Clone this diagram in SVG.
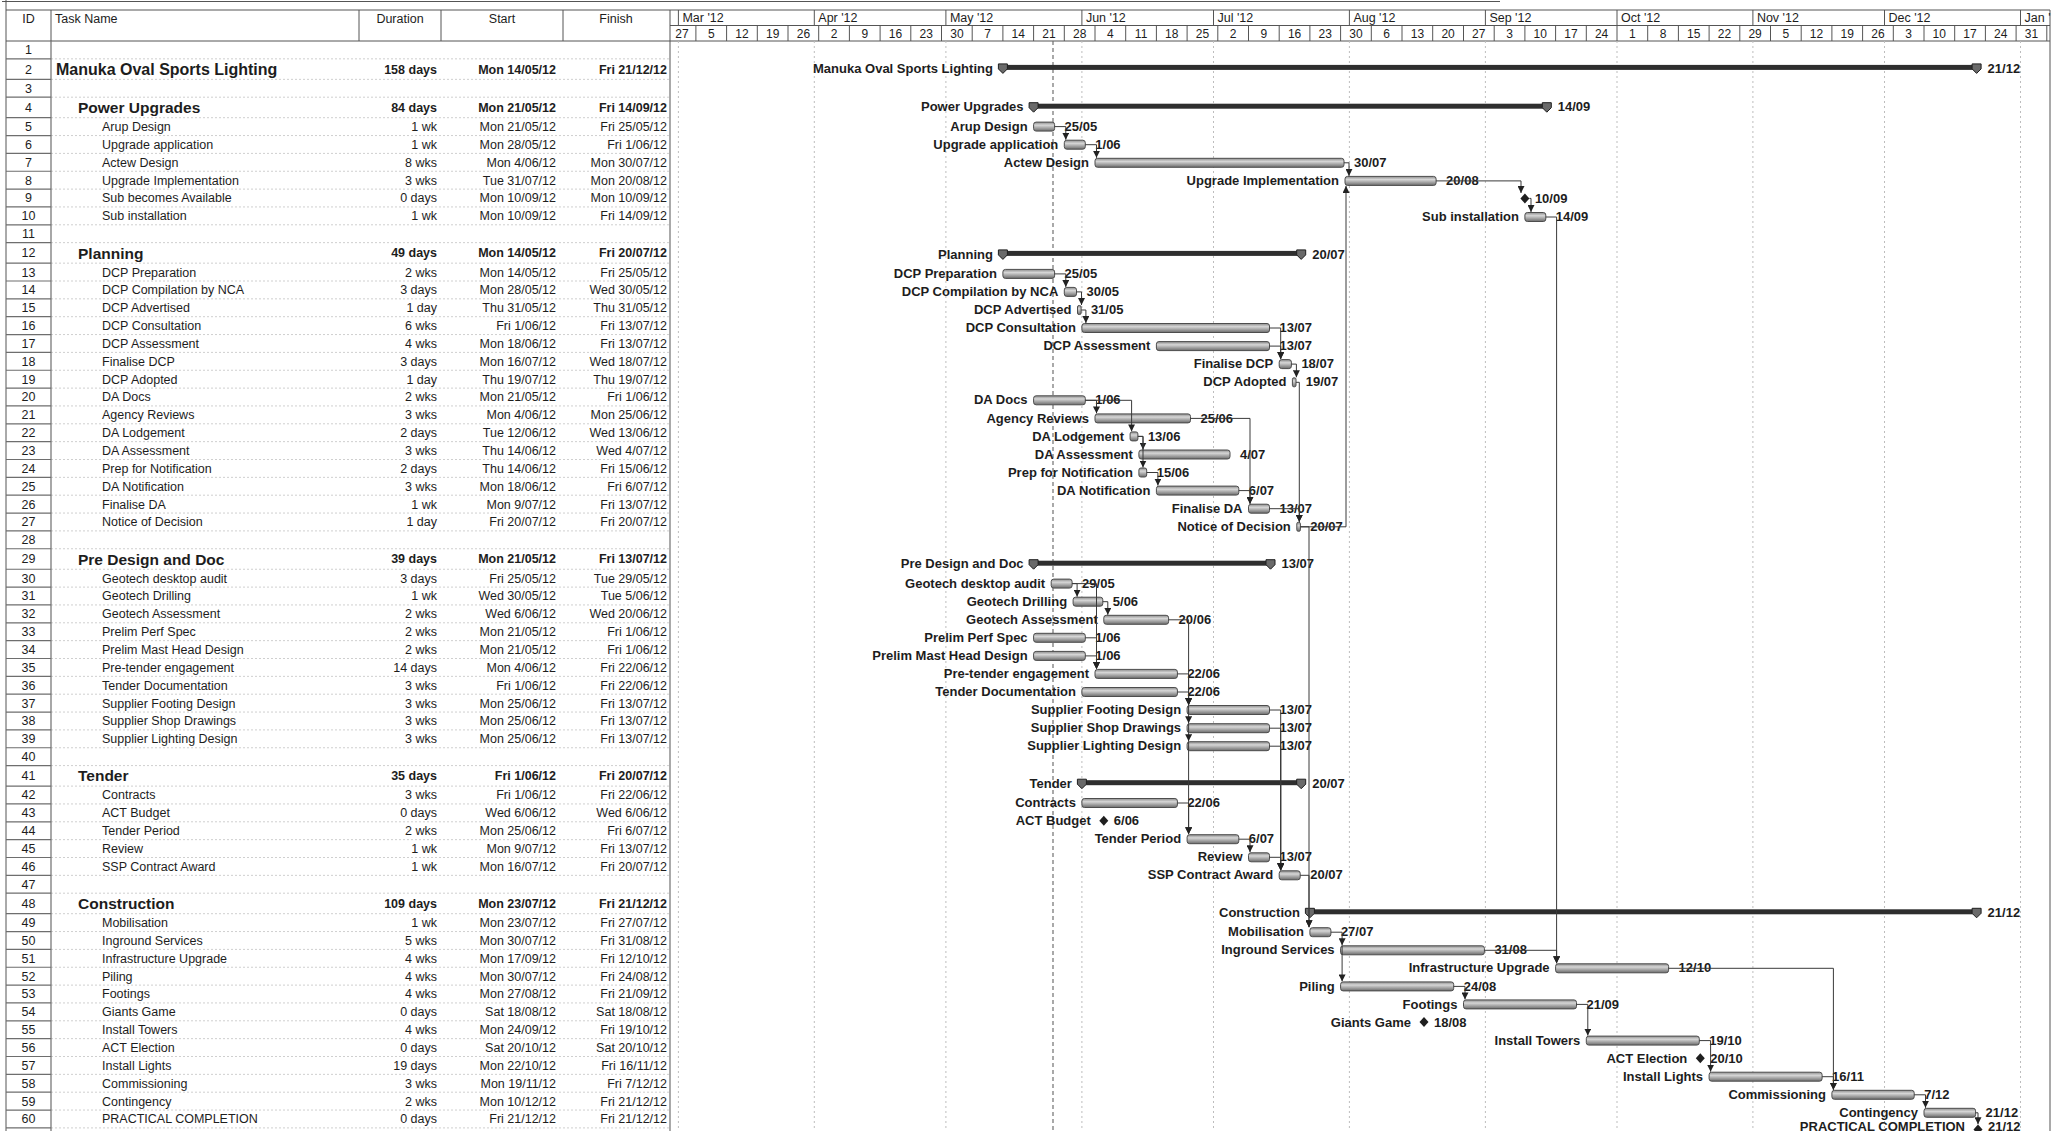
<svg xmlns="http://www.w3.org/2000/svg" xmlns:xlink="http://www.w3.org/1999/xlink" width="2057" height="1131" viewBox="0 0 2057 1131">
<style>
text{font-family:"Liberation Sans",Arial,Helvetica,sans-serif;fill:#1d1d1d}
.hd{font-size:12.5px}
.hc{font-size:12.5px;text-anchor:middle}
.id{font-size:12.5px;text-anchor:middle}
.n{font-size:12.5px}
.s0{font-size:16px;font-weight:bold}
.s1{font-size:15.5px;font-weight:bold}
.r{font-size:12.5px;text-anchor:end}
.rb{font-size:12.5px;text-anchor:end;font-weight:bold}
.wk{font-size:12px;text-anchor:middle}
.mo{font-size:12.5px}
.cl{font-size:13px;font-weight:bold;text-anchor:end}
.cd{font-size:13px;font-weight:bold}
.bar{fill:url(#g);stroke:#4d4d4d;stroke-width:1}
.sum{fill:#2e2e2e}
.cap{fill:#6a6a6a;stroke:#1f1f1f;stroke-width:1}
.ms{fill:#1f1f1f}
.lk{fill:none;stroke:#3a3a3a;stroke-width:1;marker-end:url(#a)}
.grid{stroke:#bdbdbd;stroke-width:1;stroke-dasharray:2 3;fill:none}
.stat{stroke:#707070;stroke-width:1.2;stroke-dasharray:4 3;fill:none}
.rowl{stroke:#cfcfcf;stroke-width:1;stroke-dasharray:2 2;fill:none}
.idl{stroke:#6e6e6e;stroke-width:1.2;fill:none}
.hl{stroke:#555;stroke-width:1;fill:none}
</style>
<defs>
<linearGradient id="g" x1="0" y1="0" x2="0" y2="1">
<stop offset="0" stop-color="#8c8c8c"/>
<stop offset="0.35" stop-color="#d6d6d6"/>
<stop offset="1" stop-color="#6c6c6c"/>
</linearGradient>
<marker id="a" viewBox="0 0 10 10" refX="10" refY="5" markerWidth="7" markerHeight="7" markerUnits="userSpaceOnUse" orient="auto">
<path d="M0,0 L10,5 L0,10 Z" fill="#222"/>
</marker>
<path id="cap" class="cap" d="M-4.5,-4 H4.5 V1 L0,5.5 L-4.5,1 Z"/>
<path id="dia" class="ms" d="M0,-5 L4.5,0 L0,5 L-4.5,0 Z"/>
</defs>
<rect x="0" y="0" width="2057" height="1131" fill="#ffffff"/>

<g id="frame">
<path class="hl" d="M2,1.5H1500"/>
<path class="hl" d="M6,0V1131M6,10H2050M6,41H2050M670,25.5H2050M2050,10V1131M670,10V1131"/>
<path class="hl" d="M51,10V41M359,10V41M441,10V41M563,10V41"/>
</g>

<g id="table-header">
<text class="hc" x="28.5" y="23">ID</text>
<text class="hd" x="55" y="23">Task Name</text>
<text class="hc" x="400" y="23">Duration</text>
<text class="hc" x="502" y="23">Start</text>
<text class="hc" x="616" y="23">Finish</text>
</g>

<g id="timescale">
<path class="hl" d="M678.4,10V25.5M814.3,10V25.5M945.9,10V25.5M1081.9,10V25.5M1213.5,10V25.5M1349.4,10V25.5M1485.4,10V25.5M1617,10V25.5M1752.9,10V25.5M1884.5,10V25.5M2020.5,10V25.5"/>
<text class="mo" x="682.4" y="22">Mar '12</text>
<text class="mo" x="818.3" y="22">Apr '12</text>
<text class="mo" x="949.9" y="22">May '12</text>
<text class="mo" x="1085.9" y="22">Jun '12</text>
<text class="mo" x="1217.5" y="22">Jul '12</text>
<text class="mo" x="1353.4" y="22">Aug '12</text>
<text class="mo" x="1489.4" y="22">Sep '12</text>
<text class="mo" x="1621" y="22">Oct '12</text>
<text class="mo" x="1756.9" y="22">Nov '12</text>
<text class="mo" x="1888.5" y="22">Dec '12</text>
<text class="mo" x="2024.5" y="22">Jan '</text>
<path class="hl" d="M695.9,25.5V41M726.6,25.5V41M757.3,25.5V41M788,25.5V41M818.7,25.5V41M849.4,25.5V41M880.1,25.5V41M910.8,25.5V41M941.5,25.5V41M972.2,25.5V41M1002.9,25.5V41M1033.6,25.5V41M1064.3,25.5V41M1095,25.5V41M1125.7,25.5V41M1156.4,25.5V41M1187.1,25.5V41M1217.8,25.5V41M1248.5,25.5V41M1279.2,25.5V41M1309.9,25.5V41M1340.6,25.5V41M1371.3,25.5V41M1402,25.5V41M1432.7,25.5V41M1463.5,25.5V41M1494.2,25.5V41M1524.9,25.5V41M1555.6,25.5V41M1586.3,25.5V41M1617,25.5V41M1647.7,25.5V41M1678.4,25.5V41M1709.1,25.5V41M1739.8,25.5V41M1770.5,25.5V41M1801.2,25.5V41M1831.9,25.5V41M1862.6,25.5V41M1893.3,25.5V41M1924,25.5V41M1954.7,25.5V41M1985.4,25.5V41M2016.1,25.5V41M2046.8,25.5V41"/>
<text class="wk" x="682" y="37.5">27</text>
<text class="wk" x="711.3" y="37.5">5</text>
<text class="wk" x="742" y="37.5">12</text>
<text class="wk" x="772.7" y="37.5">19</text>
<text class="wk" x="803.4" y="37.5">26</text>
<text class="wk" x="834.1" y="37.5">2</text>
<text class="wk" x="864.8" y="37.5">9</text>
<text class="wk" x="895.5" y="37.5">16</text>
<text class="wk" x="926.2" y="37.5">23</text>
<text class="wk" x="956.9" y="37.5">30</text>
<text class="wk" x="987.6" y="37.5">7</text>
<text class="wk" x="1018.3" y="37.5">14</text>
<text class="wk" x="1049" y="37.5">21</text>
<text class="wk" x="1079.7" y="37.5">28</text>
<text class="wk" x="1110.4" y="37.5">4</text>
<text class="wk" x="1141.1" y="37.5">11</text>
<text class="wk" x="1171.8" y="37.5">18</text>
<text class="wk" x="1202.5" y="37.5">25</text>
<text class="wk" x="1233.2" y="37.5">2</text>
<text class="wk" x="1263.9" y="37.5">9</text>
<text class="wk" x="1294.6" y="37.5">16</text>
<text class="wk" x="1325.3" y="37.5">23</text>
<text class="wk" x="1356" y="37.5">30</text>
<text class="wk" x="1386.7" y="37.5">6</text>
<text class="wk" x="1417.4" y="37.5">13</text>
<text class="wk" x="1448.1" y="37.5">20</text>
<text class="wk" x="1478.8" y="37.5">27</text>
<text class="wk" x="1509.5" y="37.5">3</text>
<text class="wk" x="1540.2" y="37.5">10</text>
<text class="wk" x="1570.9" y="37.5">17</text>
<text class="wk" x="1601.6" y="37.5">24</text>
<text class="wk" x="1632.3" y="37.5">1</text>
<text class="wk" x="1663" y="37.5">8</text>
<text class="wk" x="1693.7" y="37.5">15</text>
<text class="wk" x="1724.4" y="37.5">22</text>
<text class="wk" x="1755.1" y="37.5">29</text>
<text class="wk" x="1785.8" y="37.5">5</text>
<text class="wk" x="1816.5" y="37.5">12</text>
<text class="wk" x="1847.2" y="37.5">19</text>
<text class="wk" x="1877.9" y="37.5">26</text>
<text class="wk" x="1908.6" y="37.5">3</text>
<text class="wk" x="1939.3" y="37.5">10</text>
<text class="wk" x="1970" y="37.5">17</text>
<text class="wk" x="2000.7" y="37.5">24</text>
<text class="wk" x="2031.4" y="37.5">31</text>
</g>

<g id="grid">
<path class="grid" d="M678.4,41V1131M814.3,41V1131M945.9,41V1131M1081.9,41V1131M1213.5,41V1131M1349.4,41V1131M1485.4,41V1131M1617,41V1131M1752.9,41V1131M1884.5,41V1131M2020.5,41V1131"/>
<path class="stat" d="M1053,41V1131"/>
<path class="rowl" d="M51,58.85H670M51,79.35H670M51,97.2H670M51,117.7H670M51,135.55H670M51,153.4H670M51,171.25H670M51,189.1H670M51,206.95H670M51,224.8H670M51,242.65H670M51,263.15H670M51,281H670M51,298.85H670M51,316.7H670M51,334.55H670M51,352.4H670M51,370.25H670M51,388.1H670M51,405.95H670M51,423.8H670M51,441.65H670M51,459.5H670M51,477.35H670M51,495.2H670M51,513.05H670M51,530.9H670M51,548.75H670M51,569.25H670M51,587.1H670M51,604.95H670M51,622.8H670M51,640.65H670M51,658.5H670M51,676.35H670M51,694.2H670M51,712.05H670M51,729.9H670M51,747.75H670M51,765.6H670M51,786.1H670M51,803.95H670M51,821.8H670M51,839.65H670M51,857.5H670M51,875.35H670M51,893.2H670M51,913.7H670M51,931.55H670M51,949.4H670M51,967.25H670M51,985.1H670M51,1002.95H670M51,1020.8H670M51,1038.65H670M51,1056.5H670M51,1074.35H670M51,1092.2H670M51,1110.05H670M51,1127.9H670"/>
<path class="idl" d="M51,41V1131M6,58.85H51M6,79.35H51M6,97.2H51M6,117.7H51M6,135.55H51M6,153.4H51M6,171.25H51M6,189.1H51M6,206.95H51M6,224.8H51M6,242.65H51M6,263.15H51M6,281H51M6,298.85H51M6,316.7H51M6,334.55H51M6,352.4H51M6,370.25H51M6,388.1H51M6,405.95H51M6,423.8H51M6,441.65H51M6,459.5H51M6,477.35H51M6,495.2H51M6,513.05H51M6,530.9H51M6,548.75H51M6,569.25H51M6,587.1H51M6,604.95H51M6,622.8H51M6,640.65H51M6,658.5H51M6,676.35H51M6,694.2H51M6,712.05H51M6,729.9H51M6,747.75H51M6,765.6H51M6,786.1H51M6,803.95H51M6,821.8H51M6,839.65H51M6,857.5H51M6,875.35H51M6,893.2H51M6,913.7H51M6,931.55H51M6,949.4H51M6,967.25H51M6,985.1H51M6,1002.95H51M6,1020.8H51M6,1038.65H51M6,1056.5H51M6,1074.35H51M6,1092.2H51M6,1110.05H51M6,1127.9H51"/>
</g>

<g id="blank-rows">
<text class="id" x="28.5" y="54.3">1</text>
<text class="id" x="28.5" y="92.7">3</text>
<text class="id" x="28.5" y="238.1">11</text>
<text class="id" x="28.5" y="544.2">28</text>
<text class="id" x="28.5" y="761.1">40</text>
<text class="id" x="28.5" y="888.7">47</text>
</g>

<g id="task-2">
<text class="id" x="28.5" y="73.5">2</text>
<text class="s0" x="56" y="74.7">Manuka Oval Sports Lighting</text>
<text class="rb" x="437" y="73.5">158 days</text>
<text class="rb" x="556" y="73.5">Mon 14/05/12</text>
<text class="rb" x="667" y="73.5">Fri 21/12/12</text>
<rect class="sum" x="1002.9" y="64.9" width="973.7" height="5"/>
<use xlink:href="#cap" x="1002.9" y="67.9"/>
<use xlink:href="#cap" x="1976.6" y="67.9"/>
<text class="cl" x="992.9" y="72.5">Manuka Oval Sports Lighting</text>
<text class="cd" x="1987.6" y="72.5">21/12</text>
</g>

<g id="task-4">
<text class="id" x="28.5" y="111.85">4</text>
<text class="s1" x="78" y="113.05">Power Upgrades</text>
<text class="rb" x="437" y="111.85">84 days</text>
<text class="rb" x="556" y="111.85">Mon 21/05/12</text>
<text class="rb" x="667" y="111.85">Fri 14/09/12</text>
<rect class="sum" x="1033.6" y="103.7" width="513.2" height="5"/>
<use xlink:href="#cap" x="1033.6" y="106.7"/>
<use xlink:href="#cap" x="1546.8" y="106.7"/>
<text class="cl" x="1023.6" y="111.3">Power Upgrades</text>
<text class="cd" x="1557.8" y="111.3">14/09</text>
</g>

<g id="task-5">
<text class="id" x="28.5" y="131">5</text>
<text class="n" x="102" y="131">Arup Design</text>
<text class="r" x="437" y="131">1 wk</text>
<text class="r" x="556" y="131">Mon 21/05/12</text>
<text class="r" x="667" y="131">Fri 25/05/12</text>
<rect class="bar" x="1033.6" y="122.1" width="21" height="9" rx="2.5"/>
<text class="cl" x="1027.6" y="130.7">Arup Design</text>
<text class="cd" x="1064.6" y="130.7">25/05</text>
</g>

<g id="task-6">
<text class="id" x="28.5" y="148.9">6</text>
<text class="n" x="102" y="148.9">Upgrade application</text>
<text class="r" x="437" y="148.9">1 wk</text>
<text class="r" x="556" y="148.9">Mon 28/05/12</text>
<text class="r" x="667" y="148.9">Fri 1/06/12</text>
<rect class="bar" x="1064.3" y="140.2" width="21" height="9" rx="2.5"/>
<text class="cl" x="1058.3" y="148.8">Upgrade application</text>
<text class="cd" x="1095.3" y="148.8">1/06</text>
</g>

<g id="task-7">
<text class="id" x="28.5" y="166.7">7</text>
<text class="n" x="102" y="166.7">Actew Design</text>
<text class="r" x="437" y="166.7">8 wks</text>
<text class="r" x="556" y="166.7">Mon 4/06/12</text>
<text class="r" x="667" y="166.7">Mon 30/07/12</text>
<rect class="bar" x="1095" y="158.3" width="249" height="9" rx="2.5"/>
<text class="cl" x="1089" y="166.9">Actew Design</text>
<text class="cd" x="1354" y="166.9">30/07</text>
</g>

<g id="task-8">
<text class="id" x="28.5" y="184.6">8</text>
<text class="n" x="102" y="184.6">Upgrade Implementation</text>
<text class="r" x="437" y="184.6">3 wks</text>
<text class="r" x="556" y="184.6">Tue 31/07/12</text>
<text class="r" x="667" y="184.6">Mon 20/08/12</text>
<rect class="bar" x="1345" y="176.4" width="91.1" height="9" rx="2.5"/>
<text class="cl" x="1339" y="185">Upgrade Implementation</text>
<text class="cd" x="1446.1" y="185">20/08</text>
</g>

<g id="task-9">
<text class="id" x="28.5" y="202.4">9</text>
<text class="n" x="102" y="202.4">Sub becomes Available</text>
<text class="r" x="437" y="202.4">0 days</text>
<text class="r" x="556" y="202.4">Mon 10/09/12</text>
<text class="r" x="667" y="202.4">Mon 10/09/12</text>
<use xlink:href="#dia" x="1524.9" y="198.4"/>
<text class="cd" x="1534.9" y="203">10/09</text>
</g>

<g id="task-10">
<text class="id" x="28.5" y="220.3">10</text>
<text class="n" x="102" y="220.3">Sub installation</text>
<text class="r" x="437" y="220.3">1 wk</text>
<text class="r" x="556" y="220.3">Mon 10/09/12</text>
<text class="r" x="667" y="220.3">Fri 14/09/12</text>
<rect class="bar" x="1524.9" y="212.5" width="20.9" height="9" rx="2.5"/>
<text class="cl" x="1518.9" y="221.1">Sub installation</text>
<text class="cd" x="1555.8" y="221.1">14/09</text>
</g>

<g id="task-12">
<text class="id" x="28.5" y="257.3">12</text>
<text class="s1" x="78" y="258.5">Planning</text>
<text class="rb" x="437" y="257.3">49 days</text>
<text class="rb" x="556" y="257.3">Mon 14/05/12</text>
<text class="rb" x="667" y="257.3">Fri 20/07/12</text>
<rect class="sum" x="1002.9" y="250.9" width="298.3" height="5"/>
<use xlink:href="#cap" x="1002.9" y="253.9"/>
<use xlink:href="#cap" x="1301.2" y="253.9"/>
<text class="cl" x="992.9" y="258.5">Planning</text>
<text class="cd" x="1312.2" y="258.5">20/07</text>
</g>

<g id="task-13">
<text class="id" x="28.5" y="276.5">13</text>
<text class="n" x="102" y="276.5">DCP Preparation</text>
<text class="r" x="437" y="276.5">2 wks</text>
<text class="r" x="556" y="276.5">Mon 14/05/12</text>
<text class="r" x="667" y="276.5">Fri 25/05/12</text>
<rect class="bar" x="1002.9" y="269.4" width="51.7" height="9" rx="2.5"/>
<text class="cl" x="996.9" y="278">DCP Preparation</text>
<text class="cd" x="1064.6" y="278">25/05</text>
</g>

<g id="task-14">
<text class="id" x="28.5" y="294.3">14</text>
<text class="n" x="102" y="294.3">DCP Compilation by NCA</text>
<text class="r" x="437" y="294.3">3 days</text>
<text class="r" x="556" y="294.3">Mon 28/05/12</text>
<text class="r" x="667" y="294.3">Wed 30/05/12</text>
<rect class="bar" x="1064.3" y="287.4" width="12.2" height="9" rx="2.5"/>
<text class="cl" x="1058.3" y="296">DCP Compilation by NCA</text>
<text class="cd" x="1086.5" y="296">30/05</text>
</g>

<g id="task-15">
<text class="id" x="28.5" y="312.2">15</text>
<text class="n" x="102" y="312.2">DCP Advertised</text>
<text class="r" x="437" y="312.2">1 day</text>
<text class="r" x="556" y="312.2">Thu 31/05/12</text>
<text class="r" x="667" y="312.2">Thu 31/05/12</text>
<rect class="bar" x="1077.5" y="305.5" width="3.6" height="9" rx="1.5"/>
<text class="cl" x="1071.5" y="314.1">DCP Advertised</text>
<text class="cd" x="1090.9" y="314.1">31/05</text>
</g>

<g id="task-16">
<text class="id" x="28.5" y="330">16</text>
<text class="n" x="102" y="330">DCP Consultation</text>
<text class="r" x="437" y="330">6 wks</text>
<text class="r" x="556" y="330">Fri 1/06/12</text>
<text class="r" x="667" y="330">Fri 13/07/12</text>
<rect class="bar" x="1081.9" y="323.5" width="187.6" height="9" rx="2.5"/>
<text class="cl" x="1075.9" y="332.1">DCP Consultation</text>
<text class="cd" x="1279.5" y="332.1">13/07</text>
</g>

<g id="task-17">
<text class="id" x="28.5" y="347.9">17</text>
<text class="n" x="102" y="347.9">DCP Assessment</text>
<text class="r" x="437" y="347.9">4 wks</text>
<text class="r" x="556" y="347.9">Mon 18/06/12</text>
<text class="r" x="667" y="347.9">Fri 13/07/12</text>
<rect class="bar" x="1156.4" y="341.6" width="113.1" height="9" rx="2.5"/>
<text class="cl" x="1150.4" y="350.2">DCP Assessment</text>
<text class="cd" x="1279.5" y="350.2">13/07</text>
</g>

<g id="task-18">
<text class="id" x="28.5" y="365.7">18</text>
<text class="n" x="102" y="365.7">Finalise DCP</text>
<text class="r" x="437" y="365.7">3 days</text>
<text class="r" x="556" y="365.7">Mon 16/07/12</text>
<text class="r" x="667" y="365.7">Wed 18/07/12</text>
<rect class="bar" x="1279.2" y="359.6" width="12.2" height="9" rx="2.5"/>
<text class="cl" x="1273.2" y="368.2">Finalise DCP</text>
<text class="cd" x="1301.4" y="368.2">18/07</text>
</g>

<g id="task-19">
<text class="id" x="28.5" y="383.6">19</text>
<text class="n" x="102" y="383.6">DCP Adopted</text>
<text class="r" x="437" y="383.6">1 day</text>
<text class="r" x="556" y="383.6">Thu 19/07/12</text>
<text class="r" x="667" y="383.6">Thu 19/07/12</text>
<rect class="bar" x="1292.4" y="377.8" width="3.6" height="9" rx="1.5"/>
<text class="cl" x="1286.4" y="386.4">DCP Adopted</text>
<text class="cd" x="1305.8" y="386.4">19/07</text>
</g>

<g id="task-20">
<text class="id" x="28.5" y="401.4">20</text>
<text class="n" x="102" y="401.4">DA Docs</text>
<text class="r" x="437" y="401.4">2 wks</text>
<text class="r" x="556" y="401.4">Mon 21/05/12</text>
<text class="r" x="667" y="401.4">Fri 1/06/12</text>
<rect class="bar" x="1033.6" y="395.8" width="51.7" height="9" rx="2.5"/>
<text class="cl" x="1027.6" y="404.4">DA Docs</text>
<text class="cd" x="1095.3" y="404.4">1/06</text>
</g>

<g id="task-21">
<text class="id" x="28.5" y="419.3">21</text>
<text class="n" x="102" y="419.3">Agency Reviews</text>
<text class="r" x="437" y="419.3">3 wks</text>
<text class="r" x="556" y="419.3">Mon 4/06/12</text>
<text class="r" x="667" y="419.3">Mon 25/06/12</text>
<rect class="bar" x="1095" y="413.9" width="95.5" height="9" rx="2.5"/>
<text class="cl" x="1089" y="422.5">Agency Reviews</text>
<text class="cd" x="1200.5" y="422.5">25/06</text>
</g>

<g id="task-22">
<text class="id" x="28.5" y="437.1">22</text>
<text class="n" x="102" y="437.1">DA Lodgement</text>
<text class="r" x="437" y="437.1">2 days</text>
<text class="r" x="556" y="437.1">Tue 12/06/12</text>
<text class="r" x="667" y="437.1">Wed 13/06/12</text>
<rect class="bar" x="1130.1" y="431.9" width="7.8" height="9" rx="2"/>
<text class="cl" x="1124.1" y="440.5">DA Lodgement</text>
<text class="cd" x="1147.9" y="440.5">13/06</text>
</g>

<g id="task-23">
<text class="id" x="28.5" y="455">23</text>
<text class="n" x="102" y="455">DA Assessment</text>
<text class="r" x="437" y="455">3 wks</text>
<text class="r" x="556" y="455">Thu 14/06/12</text>
<text class="r" x="667" y="455">Wed 4/07/12</text>
<rect class="bar" x="1138.9" y="450" width="91.1" height="9" rx="2.5"/>
<text class="cl" x="1132.9" y="458.6">DA Assessment</text>
<text class="cd" x="1240" y="458.6">4/07</text>
</g>

<g id="task-24">
<text class="id" x="28.5" y="472.8">24</text>
<text class="n" x="102" y="472.8">Prep for Notification</text>
<text class="r" x="437" y="472.8">2 days</text>
<text class="r" x="556" y="472.8">Thu 14/06/12</text>
<text class="r" x="667" y="472.8">Fri 15/06/12</text>
<rect class="bar" x="1138.9" y="468" width="7.8" height="9" rx="2"/>
<text class="cl" x="1132.9" y="476.6">Prep for Notification</text>
<text class="cd" x="1156.7" y="476.6">15/06</text>
</g>

<g id="task-25">
<text class="id" x="28.5" y="490.7">25</text>
<text class="n" x="102" y="490.7">DA Notification</text>
<text class="r" x="437" y="490.7">3 wks</text>
<text class="r" x="556" y="490.7">Mon 18/06/12</text>
<text class="r" x="667" y="490.7">Fri 6/07/12</text>
<rect class="bar" x="1156.4" y="486.1" width="82.4" height="9" rx="2.5"/>
<text class="cl" x="1150.4" y="494.7">DA Notification</text>
<text class="cd" x="1248.8" y="494.7">6/07</text>
</g>

<g id="task-26">
<text class="id" x="28.5" y="508.5">26</text>
<text class="n" x="102" y="508.5">Finalise DA</text>
<text class="r" x="437" y="508.5">1 wk</text>
<text class="r" x="556" y="508.5">Mon 9/07/12</text>
<text class="r" x="667" y="508.5">Fri 13/07/12</text>
<rect class="bar" x="1248.5" y="504.2" width="21" height="9" rx="2.5"/>
<text class="cl" x="1242.5" y="512.8">Finalise DA</text>
<text class="cd" x="1279.5" y="512.8">13/07</text>
</g>

<g id="task-27">
<text class="id" x="28.5" y="526.4">27</text>
<text class="n" x="102" y="526.4">Notice of Decision</text>
<text class="r" x="437" y="526.4">1 day</text>
<text class="r" x="556" y="526.4">Fri 20/07/12</text>
<text class="r" x="667" y="526.4">Fri 20/07/12</text>
<rect class="bar" x="1296.8" y="522.3" width="3.6" height="9" rx="1.5"/>
<text class="cl" x="1290.8" y="530.9">Notice of Decision</text>
<text class="cd" x="1310.2" y="530.9">20/07</text>
</g>

<g id="task-29">
<text class="id" x="28.5" y="563.4">29</text>
<text class="s1" x="78" y="564.6">Pre Design and Doc</text>
<text class="rb" x="437" y="563.4">39 days</text>
<text class="rb" x="556" y="563.4">Mon 21/05/12</text>
<text class="rb" x="667" y="563.4">Fri 13/07/12</text>
<rect class="sum" x="1033.6" y="560.7" width="236.9" height="5"/>
<use xlink:href="#cap" x="1033.6" y="563.7"/>
<use xlink:href="#cap" x="1270.5" y="563.7"/>
<text class="cl" x="1023.6" y="568.3">Pre Design and Doc</text>
<text class="cd" x="1281.5" y="568.3">13/07</text>
</g>

<g id="task-30">
<text class="id" x="28.5" y="582.6">30</text>
<text class="n" x="102" y="582.6">Geotech desktop audit</text>
<text class="r" x="437" y="582.6">3 days</text>
<text class="r" x="556" y="582.6">Fri 25/05/12</text>
<text class="r" x="667" y="582.6">Tue 29/05/12</text>
<rect class="bar" x="1051.2" y="579.1" width="20.9" height="9" rx="2.5"/>
<text class="cl" x="1045.2" y="587.7">Geotech desktop audit</text>
<text class="cd" x="1082.1" y="587.7">29/05</text>
</g>

<g id="task-31">
<text class="id" x="28.5" y="600.4">31</text>
<text class="n" x="102" y="600.4">Geotech Drilling</text>
<text class="r" x="437" y="600.4">1 wk</text>
<text class="r" x="556" y="600.4">Wed 30/05/12</text>
<text class="r" x="667" y="600.4">Tue 5/06/12</text>
<rect class="bar" x="1073.1" y="597.2" width="29.7" height="9" rx="2.5"/>
<text class="cl" x="1067.1" y="605.8">Geotech Drilling</text>
<text class="cd" x="1112.8" y="605.8">5/06</text>
</g>

<g id="task-32">
<text class="id" x="28.5" y="618.3">32</text>
<text class="n" x="102" y="618.3">Geotech Assessment</text>
<text class="r" x="437" y="618.3">2 wks</text>
<text class="r" x="556" y="618.3">Wed 6/06/12</text>
<text class="r" x="667" y="618.3">Wed 20/06/12</text>
<rect class="bar" x="1103.8" y="615.3" width="64.8" height="9" rx="2.5"/>
<text class="cl" x="1097.8" y="623.9">Geotech Assessment</text>
<text class="cd" x="1178.6" y="623.9">20/06</text>
</g>

<g id="task-33">
<text class="id" x="28.5" y="636.1">33</text>
<text class="n" x="102" y="636.1">Prelim Perf Spec</text>
<text class="r" x="437" y="636.1">2 wks</text>
<text class="r" x="556" y="636.1">Mon 21/05/12</text>
<text class="r" x="667" y="636.1">Fri 1/06/12</text>
<rect class="bar" x="1033.6" y="633.3" width="51.7" height="9" rx="2.5"/>
<text class="cl" x="1027.6" y="641.9">Prelim Perf Spec</text>
<text class="cd" x="1095.3" y="641.9">1/06</text>
</g>

<g id="task-34">
<text class="id" x="28.5" y="654">34</text>
<text class="n" x="102" y="654">Prelim Mast Head Design</text>
<text class="r" x="437" y="654">2 wks</text>
<text class="r" x="556" y="654">Mon 21/05/12</text>
<text class="r" x="667" y="654">Fri 1/06/12</text>
<rect class="bar" x="1033.6" y="651.4" width="51.7" height="9" rx="2.5"/>
<text class="cl" x="1027.6" y="660">Prelim Mast Head Design</text>
<text class="cd" x="1095.3" y="660">1/06</text>
</g>

<g id="task-35">
<text class="id" x="28.5" y="671.8">35</text>
<text class="n" x="102" y="671.8">Pre-tender engagement</text>
<text class="r" x="437" y="671.8">14 days</text>
<text class="r" x="556" y="671.8">Mon 4/06/12</text>
<text class="r" x="667" y="671.8">Fri 22/06/12</text>
<rect class="bar" x="1095" y="669.4" width="82.4" height="9" rx="2.5"/>
<text class="cl" x="1089" y="678">Pre-tender engagement</text>
<text class="cd" x="1187.4" y="678">22/06</text>
</g>

<g id="task-36">
<text class="id" x="28.5" y="689.7">36</text>
<text class="n" x="102" y="689.7">Tender Documentation</text>
<text class="r" x="437" y="689.7">3 wks</text>
<text class="r" x="556" y="689.7">Fri 1/06/12</text>
<text class="r" x="667" y="689.7">Fri 22/06/12</text>
<rect class="bar" x="1081.9" y="687.5" width="95.5" height="9" rx="2.5"/>
<text class="cl" x="1075.9" y="696.1">Tender Documentation</text>
<text class="cd" x="1187.4" y="696.1">22/06</text>
</g>

<g id="task-37">
<text class="id" x="28.5" y="707.5">37</text>
<text class="n" x="102" y="707.5">Supplier Footing Design</text>
<text class="r" x="437" y="707.5">3 wks</text>
<text class="r" x="556" y="707.5">Mon 25/06/12</text>
<text class="r" x="667" y="707.5">Fri 13/07/12</text>
<rect class="bar" x="1187.1" y="705.5" width="82.4" height="9" rx="2.5"/>
<text class="cl" x="1181.1" y="714.1">Supplier Footing Design</text>
<text class="cd" x="1279.5" y="714.1">13/07</text>
</g>

<g id="task-38">
<text class="id" x="28.5" y="725.4">38</text>
<text class="n" x="102" y="725.4">Supplier Shop Drawings</text>
<text class="r" x="437" y="725.4">3 wks</text>
<text class="r" x="556" y="725.4">Mon 25/06/12</text>
<text class="r" x="667" y="725.4">Fri 13/07/12</text>
<rect class="bar" x="1187.1" y="723.7" width="82.4" height="9" rx="2.5"/>
<text class="cl" x="1181.1" y="732.3">Supplier Shop Drawings</text>
<text class="cd" x="1279.5" y="732.3">13/07</text>
</g>

<g id="task-39">
<text class="id" x="28.5" y="743.2">39</text>
<text class="n" x="102" y="743.2">Supplier Lighting Design</text>
<text class="r" x="437" y="743.2">3 wks</text>
<text class="r" x="556" y="743.2">Mon 25/06/12</text>
<text class="r" x="667" y="743.2">Fri 13/07/12</text>
<rect class="bar" x="1187.1" y="741.7" width="82.4" height="9" rx="2.5"/>
<text class="cl" x="1181.1" y="750.3">Supplier Lighting Design</text>
<text class="cd" x="1279.5" y="750.3">13/07</text>
</g>

<g id="task-41">
<text class="id" x="28.5" y="780.25">41</text>
<text class="s1" x="78" y="781.45">Tender</text>
<text class="rb" x="437" y="780.25">35 days</text>
<text class="rb" x="556" y="780.25">Fri 1/06/12</text>
<text class="rb" x="667" y="780.25">Fri 20/07/12</text>
<rect class="sum" x="1081.9" y="780.2" width="219.3" height="5"/>
<use xlink:href="#cap" x="1081.9" y="783.2"/>
<use xlink:href="#cap" x="1301.2" y="783.2"/>
<text class="cl" x="1071.9" y="787.8">Tender</text>
<text class="cd" x="1312.2" y="787.8">20/07</text>
</g>

<g id="task-42">
<text class="id" x="28.5" y="799.4">42</text>
<text class="n" x="102" y="799.4">Contracts</text>
<text class="r" x="437" y="799.4">3 wks</text>
<text class="r" x="556" y="799.4">Fri 1/06/12</text>
<text class="r" x="667" y="799.4">Fri 22/06/12</text>
<rect class="bar" x="1081.9" y="798.5" width="95.5" height="9" rx="2.5"/>
<text class="cl" x="1075.9" y="807.1">Contracts</text>
<text class="cd" x="1187.4" y="807.1">22/06</text>
</g>

<g id="task-43">
<text class="id" x="28.5" y="817.3">43</text>
<text class="n" x="102" y="817.3">ACT Budget</text>
<text class="r" x="437" y="817.3">0 days</text>
<text class="r" x="556" y="817.3">Wed 6/06/12</text>
<text class="r" x="667" y="817.3">Wed 6/06/12</text>
<use xlink:href="#dia" x="1103.8" y="820.7"/>
<text class="cl" x="1090.8" y="825.3">ACT Budget</text>
<text class="cd" x="1113.8" y="825.3">6/06</text>
</g>

<g id="task-44">
<text class="id" x="28.5" y="835.1">44</text>
<text class="n" x="102" y="835.1">Tender Period</text>
<text class="r" x="437" y="835.1">2 wks</text>
<text class="r" x="556" y="835.1">Mon 25/06/12</text>
<text class="r" x="667" y="835.1">Fri 6/07/12</text>
<rect class="bar" x="1187.1" y="834.7" width="51.7" height="9" rx="2.5"/>
<text class="cl" x="1181.1" y="843.3">Tender Period</text>
<text class="cd" x="1248.8" y="843.3">6/07</text>
</g>

<g id="task-45">
<text class="id" x="28.5" y="853">45</text>
<text class="n" x="102" y="853">Review</text>
<text class="r" x="437" y="853">1 wk</text>
<text class="r" x="556" y="853">Mon 9/07/12</text>
<text class="r" x="667" y="853">Fri 13/07/12</text>
<rect class="bar" x="1248.5" y="852.8" width="21" height="9" rx="2.5"/>
<text class="cl" x="1242.5" y="861.4">Review</text>
<text class="cd" x="1279.5" y="861.4">13/07</text>
</g>

<g id="task-46">
<text class="id" x="28.5" y="870.8">46</text>
<text class="n" x="102" y="870.8">SSP Contract Award</text>
<text class="r" x="437" y="870.8">1 wk</text>
<text class="r" x="556" y="870.8">Mon 16/07/12</text>
<text class="r" x="667" y="870.8">Fri 20/07/12</text>
<rect class="bar" x="1279.2" y="870.8" width="21" height="9" rx="2.5"/>
<text class="cl" x="1273.2" y="879.4">SSP Contract Award</text>
<text class="cd" x="1310.2" y="879.4">20/07</text>
</g>

<g id="task-48">
<text class="id" x="28.5" y="907.85">48</text>
<text class="s1" x="78" y="909.05">Construction</text>
<text class="rb" x="437" y="907.85">109 days</text>
<text class="rb" x="556" y="907.85">Mon 23/07/12</text>
<text class="rb" x="667" y="907.85">Fri 21/12/12</text>
<rect class="sum" x="1309.9" y="909.3" width="666.7" height="5"/>
<use xlink:href="#cap" x="1309.9" y="912.3"/>
<use xlink:href="#cap" x="1976.6" y="912.3"/>
<text class="cl" x="1299.9" y="916.9">Construction</text>
<text class="cd" x="1987.6" y="916.9">21/12</text>
</g>

<g id="task-49">
<text class="id" x="28.5" y="927">49</text>
<text class="n" x="102" y="927">Mobilisation</text>
<text class="r" x="437" y="927">1 wk</text>
<text class="r" x="556" y="927">Mon 23/07/12</text>
<text class="r" x="667" y="927">Fri 27/07/12</text>
<rect class="bar" x="1309.9" y="927.7" width="21" height="9" rx="2.5"/>
<text class="cl" x="1303.9" y="936.3">Mobilisation</text>
<text class="cd" x="1340.9" y="936.3">27/07</text>
</g>

<g id="task-50">
<text class="id" x="28.5" y="944.9">50</text>
<text class="n" x="102" y="944.9">Inground Services</text>
<text class="r" x="437" y="944.9">5 wks</text>
<text class="r" x="556" y="944.9">Mon 30/07/12</text>
<text class="r" x="667" y="944.9">Fri 31/08/12</text>
<rect class="bar" x="1340.6" y="945.8" width="143.8" height="9" rx="2.5"/>
<text class="cl" x="1334.6" y="954.4">Inground Services</text>
<text class="cd" x="1494.4" y="954.4">31/08</text>
</g>

<g id="task-51">
<text class="id" x="28.5" y="962.7">51</text>
<text class="n" x="102" y="962.7">Infrastructure Upgrade</text>
<text class="r" x="437" y="962.7">4 wks</text>
<text class="r" x="556" y="962.7">Mon 17/09/12</text>
<text class="r" x="667" y="962.7">Fri 12/10/12</text>
<rect class="bar" x="1555.6" y="963.8" width="113" height="9" rx="2.5"/>
<text class="cl" x="1549.6" y="972.4">Infrastructure Upgrade</text>
<text class="cd" x="1678.6" y="972.4">12/10</text>
</g>

<g id="task-52">
<text class="id" x="28.5" y="980.6">52</text>
<text class="n" x="102" y="980.6">Piling</text>
<text class="r" x="437" y="980.6">4 wks</text>
<text class="r" x="556" y="980.6">Mon 30/07/12</text>
<text class="r" x="667" y="980.6">Fri 24/08/12</text>
<rect class="bar" x="1340.6" y="981.9" width="113.1" height="9" rx="2.5"/>
<text class="cl" x="1334.6" y="990.5">Piling</text>
<text class="cd" x="1463.7" y="990.5">24/08</text>
</g>

<g id="task-53">
<text class="id" x="28.5" y="998.4">53</text>
<text class="n" x="102" y="998.4">Footings</text>
<text class="r" x="437" y="998.4">4 wks</text>
<text class="r" x="556" y="998.4">Mon 27/08/12</text>
<text class="r" x="667" y="998.4">Fri 21/09/12</text>
<rect class="bar" x="1463.5" y="999.9" width="113" height="9" rx="2.5"/>
<text class="cl" x="1457.5" y="1008.5">Footings</text>
<text class="cd" x="1586.5" y="1008.5">21/09</text>
</g>

<g id="task-54">
<text class="id" x="28.5" y="1016.3">54</text>
<text class="n" x="102" y="1016.3">Giants Game</text>
<text class="r" x="437" y="1016.3">0 days</text>
<text class="r" x="556" y="1016.3">Sat 18/08/12</text>
<text class="r" x="667" y="1016.3">Sat 18/08/12</text>
<use xlink:href="#dia" x="1424" y="1022"/>
<text class="cl" x="1411" y="1026.6">Giants Game</text>
<text class="cd" x="1434" y="1026.6">18/08</text>
</g>

<g id="task-55">
<text class="id" x="28.5" y="1034.1">55</text>
<text class="n" x="102" y="1034.1">Install Towers</text>
<text class="r" x="437" y="1034.1">4 wks</text>
<text class="r" x="556" y="1034.1">Mon 24/09/12</text>
<text class="r" x="667" y="1034.1">Fri 19/10/12</text>
<rect class="bar" x="1586.3" y="1036.1" width="113" height="9" rx="2.5"/>
<text class="cl" x="1580.3" y="1044.7">Install Towers</text>
<text class="cd" x="1709.3" y="1044.7">19/10</text>
</g>

<g id="task-56">
<text class="id" x="28.5" y="1052">56</text>
<text class="n" x="102" y="1052">ACT Election</text>
<text class="r" x="437" y="1052">0 days</text>
<text class="r" x="556" y="1052">Sat 20/10/12</text>
<text class="r" x="667" y="1052">Sat 20/10/12</text>
<use xlink:href="#dia" x="1700.3" y="1058.2"/>
<text class="cl" x="1687.3" y="1062.8">ACT Election</text>
<text class="cd" x="1710.3" y="1062.8">20/10</text>
</g>

<g id="task-57">
<text class="id" x="28.5" y="1069.8">57</text>
<text class="n" x="102" y="1069.8">Install Lights</text>
<text class="r" x="437" y="1069.8">19 days</text>
<text class="r" x="556" y="1069.8">Mon 22/10/12</text>
<text class="r" x="667" y="1069.8">Fri 16/11/12</text>
<rect class="bar" x="1709.1" y="1072.2" width="113" height="9" rx="2.5"/>
<text class="cl" x="1703.1" y="1080.8">Install Lights</text>
<text class="cd" x="1832.1" y="1080.8">16/11</text>
</g>

<g id="task-58">
<text class="id" x="28.5" y="1087.7">58</text>
<text class="n" x="102" y="1087.7">Commissioning</text>
<text class="r" x="437" y="1087.7">3 wks</text>
<text class="r" x="556" y="1087.7">Mon 19/11/12</text>
<text class="r" x="667" y="1087.7">Fri 7/12/12</text>
<rect class="bar" x="1831.9" y="1090.3" width="82.3" height="9" rx="2.5"/>
<text class="cl" x="1825.9" y="1098.9">Commissioning</text>
<text class="cd" x="1924.2" y="1098.9">7/12</text>
</g>

<g id="task-59">
<text class="id" x="28.5" y="1105.5">59</text>
<text class="n" x="102" y="1105.5">Contingency</text>
<text class="r" x="437" y="1105.5">2 wks</text>
<text class="r" x="556" y="1105.5">Mon 10/12/12</text>
<text class="r" x="667" y="1105.5">Fri 21/12/12</text>
<rect class="bar" x="1924" y="1108.3" width="51.6" height="9" rx="2.5"/>
<text class="cl" x="1918" y="1116.9">Contingency</text>
<text class="cd" x="1985.6" y="1116.9">21/12</text>
</g>

<g id="task-60">
<text class="id" x="28.5" y="1123.4">60</text>
<text class="n" x="102" y="1123.4">PRACTICAL COMPLETION</text>
<text class="r" x="437" y="1123.4">0 days</text>
<text class="r" x="556" y="1123.4">Fri 21/12/12</text>
<text class="r" x="667" y="1123.4">Fri 21/12/12</text>
<use xlink:href="#dia" x="1978" y="1129.5"/>
<text class="cl" x="1965" y="1130.5">PRACTICAL COMPLETION</text>
<text class="cd" x="1988" y="1130.5">21/12</text>
</g>

<g id="connectors">
<path class="lk" d="M1054.6,126.6H1065.8V139.7"/>
<path class="lk" d="M1085.3,144.7H1096.5V157.8"/>
<path class="lk" d="M1344,162.8H1349V175.9"/>
<path class="lk" d="M1436.1,180.9H1521V193"/>
<path class="lk" d="M1529.4,198.4H1531V212"/>
<path class="lk" d="M1545.8,217H1556.6V963.3"/>
<path class="lk" d="M1300.4,526.8H1346V185.9"/>
<path class="lk" d="M1300.4,526.8H1309V927.2"/>
<path class="lk" d="M1300.2,875.3H1309V927.2"/>
<path class="lk" d="M1054.6,273.9H1065.8V286.9"/>
<path class="lk" d="M1076.5,291.9H1081.5V305"/>
<path class="lk" d="M1081.1,310H1085.9V323"/>
<path class="lk" d="M1269.5,328H1280.7V359.1"/>
<path class="lk" d="M1269.5,346.1H1280.7V359.1"/>
<path class="lk" d="M1291.4,364.1H1296.4V377.3"/>
<path class="lk" d="M1296,382.3H1299.3V521.8"/>
<path class="lk" d="M1269.5,508.7H1299.3V521.8"/>
<path class="lk" d="M1085.3,400.3H1096.5V413.4"/>
<path class="lk" d="M1085.3,400.3H1131.6V431.4"/>
<path class="lk" d="M1190.5,418.4H1250V503.7"/>
<path class="lk" d="M1238.8,490.6H1250V503.7"/>
<path class="lk" d="M1137.9,436.4H1143V449.5"/>
<path class="lk" d="M1137.9,436.4H1143V467.5"/>
<path class="lk" d="M1146.7,472.5H1157.9V485.6"/>
<path class="lk" d="M1072.1,583.6H1077.1V596.7"/>
<path class="lk" d="M1102.8,601.7H1107.8V614.8"/>
<path class="lk" d="M1072.1,583.6H1096.5V668.9"/>
<path class="lk" d="M1085.3,637.8H1096.5V668.9"/>
<path class="lk" d="M1085.3,655.9H1096.5V668.9"/>
<path class="lk" d="M1168.6,619.8H1188.6V705"/>
<path class="lk" d="M1188.6,705V723.2"/>
<path class="lk" d="M1188.6,723.2V741.2"/>
<path class="lk" d="M1188.6,741.2V834.2"/>
<path class="lk" d="M1177.4,673.9H1188.6V705"/>
<path class="lk" d="M1177.4,692H1188.6V705"/>
<path class="lk" d="M1177.4,803H1188.6V834.2"/>
<path class="lk" d="M1269.5,710H1280.7V870.3"/>
<path class="lk" d="M1269.5,728.2H1280.7V870.3"/>
<path class="lk" d="M1269.5,746.2H1280.7V870.3"/>
<path class="lk" d="M1238.8,839.2H1250V852.3"/>
<path class="lk" d="M1269.5,857.3H1280.7V870.3"/>
<path class="lk" d="M1330.9,932.2H1342.1V945.3"/>
<path class="lk" d="M1342.1,945.3V981.4"/>
<path class="lk" d="M1484.4,950.3H1556.6V963.3"/>
<path class="lk" d="M1453.7,986.4H1465V999.4"/>
<path class="lk" d="M1576.5,1004.4H1587.8V1035.6"/>
<path class="lk" d="M1699.3,1040.6H1710.6V1071.7"/>
<path class="lk" d="M1668.6,968.3H1833.4V1089.8"/>
<path class="lk" d="M1822.1,1076.7H1833.4V1089.8"/>
<path class="lk" d="M1914.2,1094.8H1925.5V1107.8"/>
<path class="lk" d="M1975.6,1112.8H1978V1124.3"/>
</g>
</svg>
